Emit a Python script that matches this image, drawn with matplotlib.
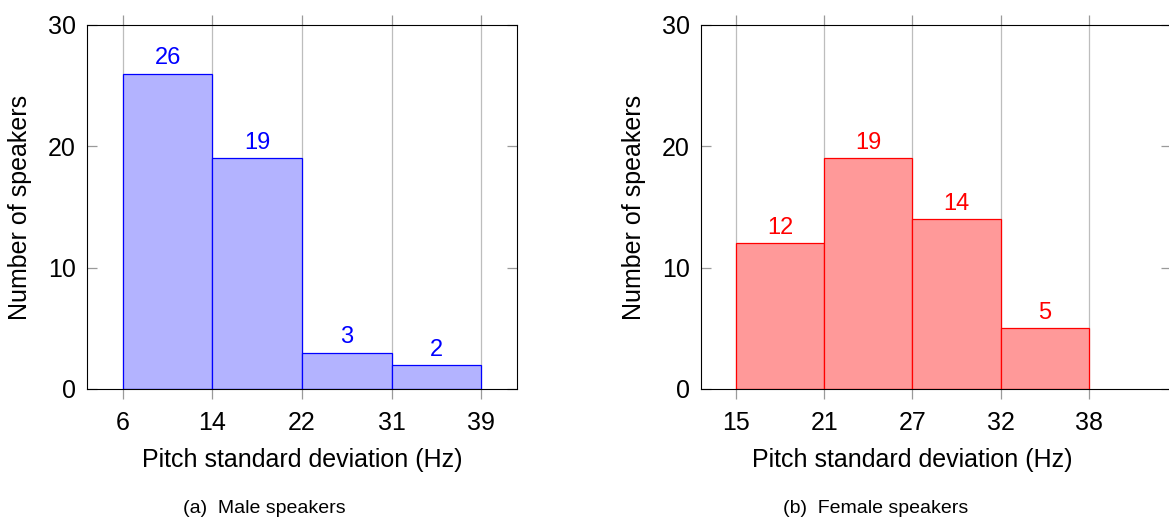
import matplotlib.pyplot as plt

plt.rcParams['font.family'] = ['Liberation Sans', 'DejaVu Sans']

# data
male_bins = ["6", "14", "22", "31", "39"]
male_counts = [26, 19, 3, 2]
female_bins = ["15", "21", "27", "32", "38"]
female_counts = [12, 19, 14, 5]

W, H = 1169, 519
fig = plt.figure(figsize=(W / 100, H / 100), dpi=100)


def px_axes(x0, x1, y0, y1):
    # pixel box (top-left origin) -> figure fraction
    return fig.add_axes([x0 / W, 1 - y1 / H, (x1 - x0) / W, (y1 - y0) / H])


def draw(ax, bins, counts, fill, edge, xlim):
    pos = list(range(len(counts)))
    ax.set_axisbelow(True)
    ax.grid(axis="x", color="#bdbdbd", lw=0.9)
    bars = ax.bar(pos, counts, width=1.0, align="edge", color=fill,
                  edgecolor=edge, linewidth=0.9, zorder=2)
    ax.bar_label(bars, labels=[str(c) for c in counts], color=edge,
                 fontsize=17, padding=3)
    ax.set_xticks(range(len(bins)))
    ax.set_xticklabels(bins)
    ax.set_xlim(*xlim)
    ax.set_ylim(0, 30)
    ax.set_yticks([0, 10, 20, 30])
    ax.tick_params(axis="x", direction="out", top=True, bottom=True,
                   length=7.5, width=0.9, color="#9a9a9a", labelsize=18, pad=8)
    ax.tick_params(axis="y", direction="in", left=True, right=True,
                   length=7.5, width=0.9, color="#9a9a9a", labelsize=18, pad=8)
    for s in ax.spines.values():
        s.set_color("black")
        s.set_linewidth(0.8)


ax1 = px_axes(87, 517, 25, 389)
draw(ax1, male_bins, male_counts, "#b3b3ff", "#0000ff", (-0.4, 4.4))

ax2 = px_axes(700.7, 1171, 25, 389)
draw(ax2, female_bins, female_counts, "#ff9999", "#ff0000", (-0.4, 4.93))

# axis labels
fig.text(20 / W, 1 - 207 / H, "Number of speakers", rotation=90,
         ha="center", va="center", fontsize=18)
fig.text(634 / W, 1 - 207 / H, "Number of speakers", rotation=90,
         ha="center", va="center", fontsize=18)
fig.text(302 / W, 1 - 467 / H, "Pitch standard deviation (Hz)",
         ha="center", va="baseline", fontsize=18)
fig.text(912.5 / W, 1 - 467 / H, "Pitch standard deviation (Hz)",
         ha="center", va="baseline", fontsize=18)

# captions
fig.text(264 / W, 1 - 513 / H, "(a)  Male speakers",
         ha="center", va="baseline", fontsize=14)
fig.text(876 / W, 1 - 513 / H, "(b)  Female speakers",
         ha="center", va="baseline", fontsize=14)

fig.savefig("out.png", dpi=100)
